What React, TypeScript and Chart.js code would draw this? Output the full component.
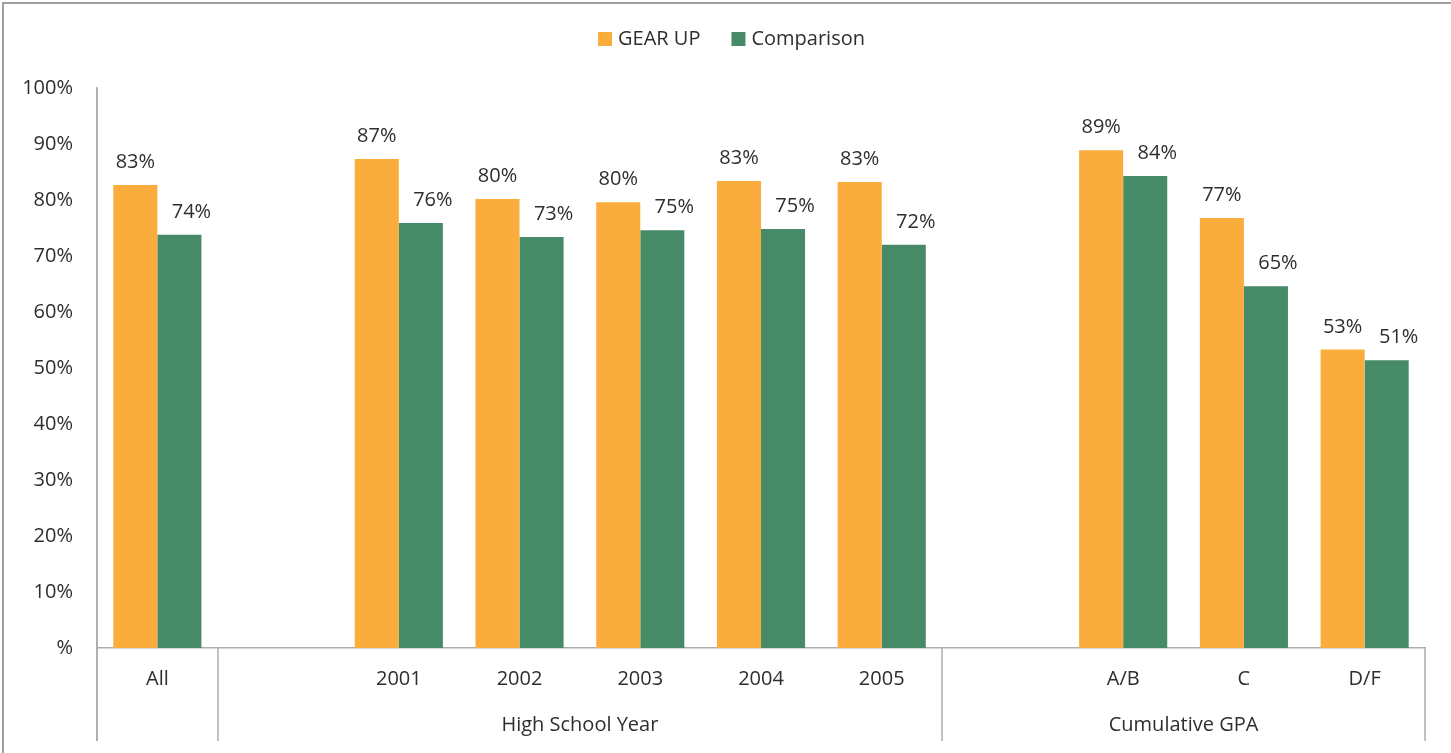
import React, { useEffect, useRef } from "react";
import { Chart, registerables } from "chart.js";

Chart.register(...registerables);

const categories = ["All", "", "2001", "2002", "2003", "2004", "2005", "", "A/B", "C", "D/F"];
const gearUp = [82.7, null, 87.3, 80.2, 79.6, 83.4, 83.2, null, 88.9, 76.8, 53.3];
const comparison = [73.8, null, 75.9, 73.4, 74.6, 74.8, 72.0, null, 84.3, 64.6, 51.4];
const seriesNames = ["GEAR UP", "Comparison"];
const seriesColors = ["#FAAD3C", "#478A68"];
// groups: [label, first index, last index]
const groups: [string, number, number][] = [
  ["", 0, 0],
  ["High School Year", 1, 6],
  ["Cumulative GPA", 7, 10],
];
const yTickLabels = ["%", "10%", "20%", "30%", "40%", "50%", "60%", "70%", "80%", "90%", "100%"];
const labelShift = [0, 12];

const FONT = "'Open Sans', sans-serif";
const TEXT = "#2E2E2E";
const AXIS = "#ADADAD";

const overlayPlugin = {
  id: "overlay",
  afterDatasetsDraw(chart: any) {
    const ctx = chart.ctx;
    const xs = chart.scales.x;
    const area = chart.chartArea;
    ctx.save();
    // value labels
    ctx.font = `20px ${FONT}`;
    ctx.fillStyle = TEXT;
    ctx.textAlign = "center";
    ctx.textBaseline = "alphabetic";
    chart.data.datasets.forEach((ds: any, di: number) => {
      const meta = chart.getDatasetMeta(di);
      meta.data.forEach((bar: any, i: number) => {
        const v = ds.data[i];
        if (v == null) return;
        ctx.fillText(`${Math.round(v)}%`, bar.x + labelShift[di], bar.y - 17);
      });
    });
    // group separators and labels
    const half = (xs.getPixelForValue(1) - xs.getPixelForValue(0)) / 2;
    const bottom = area.bottom + 93;
    ctx.strokeStyle = AXIS;
    ctx.lineWidth = 1.5;
    const bounds: number[] = [];
    groups.forEach(([, s, e]) => {
      bounds.push(xs.getPixelForValue(s) - half);
      bounds.push(xs.getPixelForValue(e) + half);
    });
    const uniq = Array.from(new Set(bounds.map((b) => Math.round(b))));
    uniq.forEach((bx) => {
      ctx.beginPath();
      ctx.moveTo(bx, area.bottom);
      ctx.lineTo(bx, bottom);
      ctx.stroke();
    });
    // y axis line extension
    ctx.beginPath();
    ctx.moveTo(area.left, area.top);
    ctx.lineTo(area.left, bottom);
    ctx.stroke();
    ctx.fillStyle = TEXT;
    ctx.font = `20px ${FONT}`;
    ctx.textBaseline = "middle";
    groups.forEach(([label, s, e]) => {
      if (!label) return;
      const cx = (xs.getPixelForValue(s) - half + xs.getPixelForValue(e) + half) / 2;
      ctx.fillText(label, cx, area.bottom + 77);
    });
    // legend
    ctx.font = `20px ${FONT}`;
    ctx.textAlign = "left";
    const box = 14;
    const gapText = 6;
    const gapItem = 31;
    const widths = seriesNames.map((n) => box + gapText + ctx.measureText(n).width);
    const total = widths.reduce((a, b) => a + b, 0) + gapItem * (widths.length - 1);
    let lx = chart.width / 2 - total / 2 + 6;
    const ly = 39;
    seriesNames.forEach((n, i) => {
      ctx.fillStyle = seriesColors[i];
      ctx.fillRect(lx, ly - box / 2, box, box);
      ctx.fillStyle = TEXT;
      ctx.fillText(n, lx + box + gapText, ly);
      lx += widths[i] + gapItem;
    });
    // outer frame (top and left visible)
    ctx.strokeStyle = "#A0A0A0";
    ctx.lineWidth = 2;
    ctx.beginPath();
    ctx.moveTo(3, chart.height + 5);
    ctx.lineTo(3, 3);
    ctx.lineTo(chart.width + 5, 3);
    ctx.stroke();
    ctx.restore();
  },
};

export default function App() {
  const ref = useRef<HTMLCanvasElement | null>(null);
  useEffect(() => {
    if (!ref.current) return;
    const chart = new Chart(ref.current, {
      type: "bar",
      data: {
        labels: categories,
        datasets: [
          {
            label: seriesNames[0],
            data: gearUp,
            backgroundColor: seriesColors[0],
            categoryPercentage: 0.73,
            barPercentage: 1,
          },
          {
            label: seriesNames[1],
            data: comparison,
            backgroundColor: seriesColors[1],
            categoryPercentage: 0.73,
            barPercentage: 1,
          },
        ] as any,
      },
      options: {
        responsive: false,
        animation: false,
        layout: { padding: { top: 88, right: 26, left: 0, bottom: 0 } },
        plugins: {
          legend: { display: false },
          tooltip: { enabled: false },
        },
        scales: {
          x: {
            grid: { display: false, drawTicks: false },
            border: { color: AXIS, width: 1.5 },
            ticks: {
              padding: 19,
              color: TEXT,
              font: { family: FONT, size: 20 },
              maxRotation: 0,
              autoSkip: false,
            },
            afterFit(scale: any) {
              scale.height = 105;
            },
          },
          y: {
            min: 0,
            max: 100,
            grid: { display: false, drawTicks: false },
            border: { color: AXIS, width: 1.5 },
            ticks: {
              stepSize: 10,
              padding: 24,
              color: TEXT,
              font: { family: FONT, size: 20 },
              callback: (v: any) => yTickLabels[Math.round(Number(v) / 10)],
            },
            afterFit(scale: any) {
              scale.width = 97;
            },
          },
        },
      },
      plugins: [overlayPlugin],
    });
    return () => chart.destroy();
  }, []);
  return (
    <div style={{ position: "fixed", left: 0, top: 0, width: 1451, height: 753, background: "#fff" }}>
      <canvas ref={ref} width={1451} height={753} />
    </div>
  );
}
